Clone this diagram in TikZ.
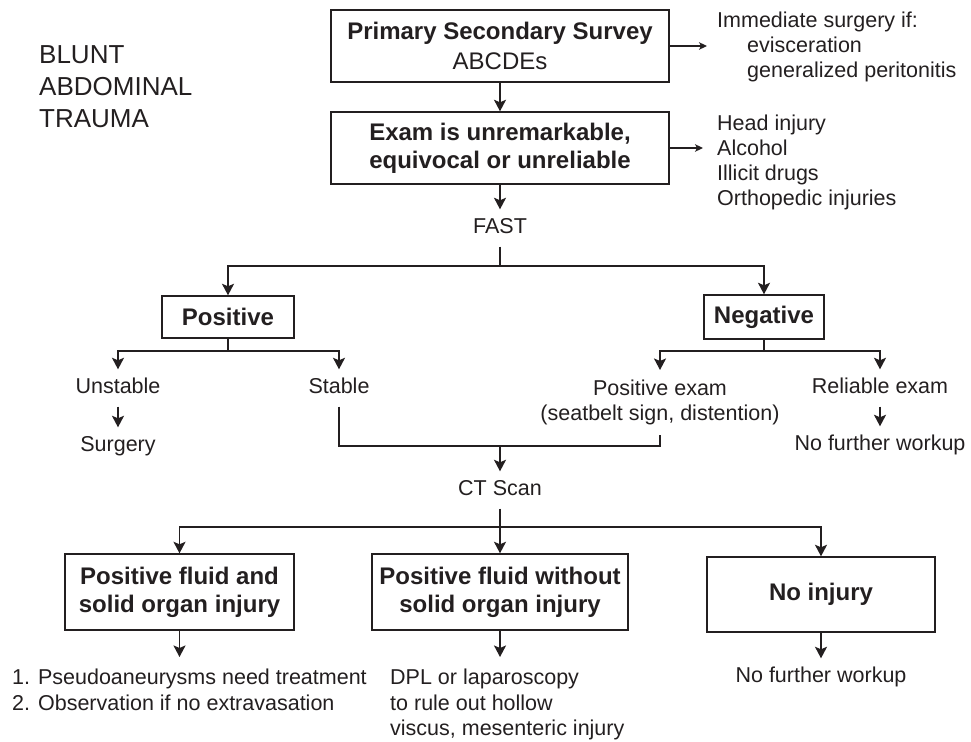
\documentclass[tikz,border=0pt]{standalone}
\usepackage{fontspec}
\setmainfont{Liberation Sans}
\usetikzlibrary{arrows.meta}
\definecolor{ink}{HTML}{231F20}
\begin{document}
\begin{tikzpicture}[x=1pt,y=-1pt,
  every node/.style={text=ink},
  txt/.style={font=\fontsize{21.5}{25}\selectfont, inner sep=0pt},
  lbl/.style={txt, text height=16pt, text depth=5pt, inner ysep=8pt, inner xsep=2pt},
  box/.style={draw=ink, line width=1.4pt, font=\fontsize{24}{28}\selectfont\bfseries,
              align=center, inner sep=0pt},
  link/.style={draw=ink, line width=1.8pt},
  arr/.style={link, -{Stealth[length=11.5pt,width=12pt,inset=2.5pt]}},
  thinarr/.style={draw=ink, line width=1.2pt, -{Stealth[length=8pt,width=7.5pt,inset=2pt]}},
]
\useasboundingbox (0,0) rectangle (971,741);

% title
\node[font=\fontsize{26}{32}\selectfont, align=left, anchor=north west, inner sep=0pt]
  (title) at (39,45) {BLUNT\\ABDOMINAL\\TRAUMA};

% survey and exam
\node[box, minimum width=338pt, minimum height=72pt] (survey) at (500,46)
  {Primary Secondary Survey\\[2pt]{\mdseries ABCDEs}};
\node[box, minimum width=338pt, minimum height=72pt] (exam) at (500,148)
  {Exam is unremarkable,\\equivocal or unreliable};

\node[txt, align=left, anchor=north west, inner xsep=10pt] (imm) at (707,12)
  {Immediate surgery if:\\\hspace*{30pt}evisceration\\\hspace*{30pt}generalized peritonitis};
\node[txt, align=left, anchor=north west, inner xsep=14pt] (risk) at (703,115)
  {Head injury\\Alcohol\\Illicit drugs\\Orthopedic injuries};

\draw[thinarr] (survey.east) -- (survey.east -| imm.west);
\draw[thinarr] (exam.east) -- (exam.east -| risk.west);
\draw[arr] (survey) -- (exam);

% FAST
\node[lbl] (fast) at (500,228) {FAST};
\draw[arr] (exam) -- (fast);

\node[box, minimum width=132pt, minimum height=42pt] (pos) at (228,317) {Positive};
\node[box, minimum width=120pt, minimum height=44pt] (neg) at (764,317) {Negative};

\coordinate (fastfork) at (500,266);
\draw[link] (fast) -- (fastfork);
\draw[arr] (fastfork) -| (pos);
\draw[arr] (fastfork) -| (neg);

% positive branch
\node[lbl] (unstable) at (118,388) {Unstable};
\node[lbl] (stable) at (339,388) {Stable};
\node[lbl] (surgery) at (118,446) {Surgery};
\coordinate (posfork) at (228,351);
\draw[link] (pos) -- (posfork);
\draw[arr] (posfork) -| (unstable);
\draw[arr] (posfork) -| (stable);
\draw[arr] (unstable) -- (surgery);

% negative branch
\node[txt, align=center, inner ysep=10pt, anchor=north] (pexam) at (660,370)
  {Positive exam\\(seatbelt sign, distention)};
\node[lbl] (reliable) at (880,388) {Reliable exam};
\node[lbl] (nfwa) at (880,445) {No further workup};
\coordinate (negfork) at (764,351);
\draw[link] (neg) -- (negfork);
\draw[arr] (negfork) -| (pexam);
\draw[arr] (negfork) -| (reliable);
\draw[arr] (reliable) -- (nfwa);

% CT scan
\node[lbl] (ct) at (500,490) {CT Scan};
\coordinate (ctjoin) at (500,446);
\draw[link] (stable) |- (ctjoin) -| (pexam);
\draw[arr] (ctjoin) -- (ct);

\node[box, minimum width=229pt, minimum height=76pt] (solid) at (179.5,592)
  {Positive fluid and\\solid organ injury};
\node[box, minimum width=256pt, minimum height=76pt] (hollow) at (500,592)
  {Positive fluid without\\solid organ injury};
\node[box, minimum width=228pt, minimum height=75pt] (noinj) at (821,594.5) {No injury};

\coordinate (ctfork) at (500,527);
\draw[link] (ct) -- (ctfork);
\draw[arr] (ctfork) -| (solid);
\draw[arr] (ctfork) -- (hollow);
\draw[arr] (ctfork) -| (noinj);

% outcomes
\node[txt, align=left, anchor=north west, inner ysep=12pt,
      font=\fontsize{21.5}{25.5}\selectfont] (list) at (12,657)
  {1. Pseudoaneurysms need treatment\\2. Observation if no extravasation};
\node[txt, align=left, anchor=north west, inner ysep=12pt,
      font=\fontsize{21.5}{25.5}\selectfont] (dpl) at (390,657)
  {DPL or laparoscopy\\to rule out hollow\\viscus, mesenteric injury};
\node[lbl] (nfwb) at (821,677) {No further workup};

\draw[arr] (solid) -- (solid.south |- list.north);
\draw[arr] (hollow) -- (hollow.south |- dpl.north);
\draw[arr] (noinj) -- (nfwb);
\end{tikzpicture}
\end{document}
